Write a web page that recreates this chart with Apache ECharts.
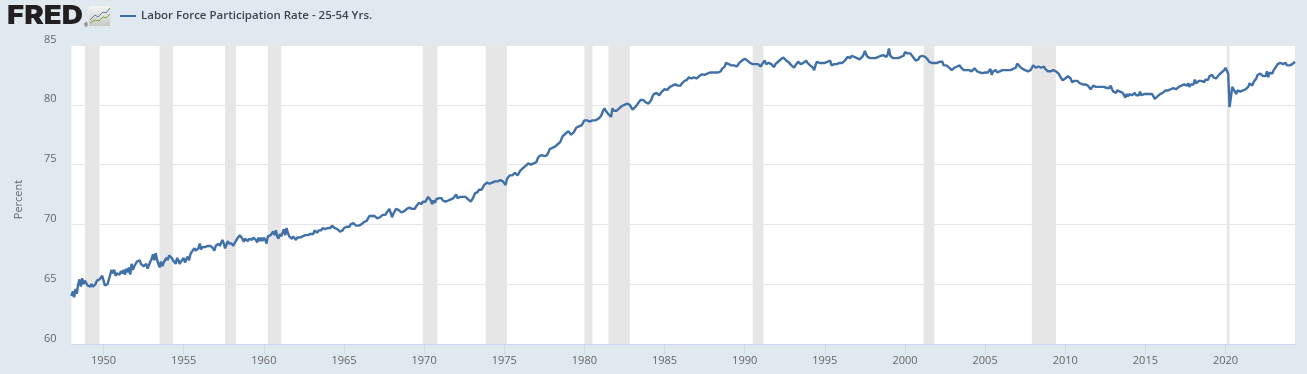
<!DOCTYPE html>
<html>
<head>
<meta charset="utf-8">
<title>Labor Force Participation Rate - 25-54 Yrs.</title>
<script src="https://cdn.jsdelivr.net/npm/echarts@6/dist/echarts.min.js"></script>
<style>
  html, body { margin: 0; padding: 0; background: #e1e9f0; }
  #chart { width: 1307px; height: 374px; }
</style>
</head>
<body>
<div id="chart"></div>
<script>
// monthly values, first value is January of the first year
const rate1948to1959 = [
  64.0,64.4,63.9,64.6,64.2,65.0,65.4,64.8,65.5,65.0,65.3,65.1,
  64.9,65.0,64.8,65.0,64.8,64.9,65.0,65.3,65.3,65.4,65.3,65.7,
  65.3,64.9,64.8,65.0,65.4,65.8,66.2,65.9,66.2,65.7,65.9,66.0,
  65.8,66.1,65.9,66.2,65.8,66.3,66.0,66.4,65.8,66.7,66.2,66.5,
  66.6,66.9,66.8,67.0,66.7,66.6,66.5,66.4,66.7,66.3,66.6,66.9,
  67.1,67.5,67.0,67.6,67.1,66.7,66.4,66.9,66.5,66.8,66.7,67.2,
  67.0,67.4,67.3,67.2,67.0,66.9,66.7,67.2,67.0,66.7,66.9,66.8,
  67.2,66.8,67.1,67.3,67.0,67.5,67.7,67.6,68.0,67.8,67.9,68.0,
  68.4,67.9,68.1,68.2,68.1,68.2,68.2,68.3,68.2,68.1,68.0,67.8,
  68.2,68.3,68.4,68.2,68.3,68.7,68.4,68.0,68.3,68.6,68.4,68.5,
  68.4,68.2,68.4,68.6,68.8,68.9,69.1,69.0,68.8,68.55,68.8,68.7,
  68.6,68.8,68.8,68.7,68.9,68.8,68.7,68.5,68.9,68.6,68.9,68.6
];
const rate1960to1969 = [
  68.9,68.7,68.4,69.0,68.9,69.1,69.2,69.4,69.1,69.5,69.0,68.8,
  69.2,69.0,69.3,69.6,69.1,69.7,69.3,69.0,68.9,68.8,69.0,69.1,
  68.7,68.9,69.0,68.9,68.8,69.0,69.0,69.1,69.0,69.1,69.0,69.2,
  69.1,69.2,69.5,69.4,69.3,69.5,69.6,69.5,69.7,69.8,69.6,69.7,
  69.7,69.8,69.7,69.9,69.8,69.7,69.8,69.6,69.5,69.4,69.4,69.5,
  69.7,69.6,69.8,69.9,69.8,70.0,70.1,70.1,70.0,69.9,69.9,69.9,
  70.0,70.0,70.1,70.2,70.1,70.3,70.5,70.7,70.8,70.7,70.6,70.7,
  70.6,70.5,70.6,70.6,70.7,70.8,70.9,70.8,71.0,71.1,71.3,71.2,
  70.6,70.9,71.1,71.3,71.3,71.2,71.1,71.0,71.0,71.1,71.2,71.3,
  71.4,71.4,71.3,71.3,71.4,71.3,71.5,71.6,71.8,71.8,71.7,71.9
];
const rate1970to1979 = [
  72.0,71.9,72.1,72.3,72.2,72.0,71.7,72.0,71.8,72.1,72.2,72.2,
  72.1,72.2,72.0,71.9,71.9,71.8,72.0,72.0,72.1,72.1,72.2,72.2,
  72.5,72.2,72.2,72.3,72.3,72.3,72.4,72.3,72.2,72.1,72.0,71.9,
  72.1,72.3,72.6,72.6,72.7,72.9,73.0,72.9,73.1,73.3,73.4,73.5,
  73.6,73.4,73.5,73.5,73.4,73.6,73.7,73.6,73.7,73.7,73.8,73.6,
  73.7,73.3,73.8,73.9,74.1,74.0,74.1,74.2,74.3,74.4,74.1,74.3,
  74.5,74.6,74.7,74.8,74.9,75.0,75.1,75.0,75.0,75.1,75.1,75.1,
  75.2,75.5,75.7,75.7,75.8,75.7,75.7,75.8,75.8,76.0,76.3,76.4,
  76.4,76.5,76.5,76.6,76.7,76.8,76.9,77.2,77.4,77.5,77.6,77.7,
  77.8,77.7,77.5,77.4,77.7,77.9,78.1,78.2,78.2,78.2,78.3,78.5
];
const rate1980to1989 = [
  78.7,78.8,78.7,78.7,78.6,78.6,78.7,78.7,78.7,78.8,78.8,78.8,
  79.0,79.2,79.5,79.7,79.5,79.4,79.2,79.2,79.0,79.7,79.5,79.4,
  79.5,79.6,79.7,79.8,79.9,80.0,80.0,80.0,80.1,80.0,80.0,79.9,
  79.6,79.7,79.8,79.9,80.1,80.2,80.4,80.5,80.4,80.3,80.2,80.2,
  80.1,80.2,80.4,80.7,80.9,81.05,81.0,80.9,80.8,80.9,81.1,81.2,
  81.3,81.4,81.25,81.3,81.5,81.5,81.6,81.7,81.7,81.7,81.6,81.7,
  81.6,81.8,81.9,82.0,82.1,82.1,82.3,82.3,82.2,82.3,82.3,82.2,
  82.2,82.3,82.4,82.5,82.55,82.5,82.5,82.6,82.6,82.6,82.7,82.6,
  82.7,82.6,82.7,82.7,82.7,82.6,82.8,83.0,83.05,83.2,83.5,83.5,
  83.4,83.3,83.3,83.2,83.3,83.2,83.2,83.3,83.5,83.6,83.7,83.8
];
const rate1990to1999 = [
  83.85,83.9,83.7,83.6,83.5,83.4,83.4,83.4,83.4,83.4,83.4,83.3,
  83.2,83.4,83.5,83.7,83.4,83.4,83.5,83.4,83.4,83.3,83.15,83.4,
  83.5,83.6,83.7,83.8,83.9,83.95,83.8,83.7,83.6,83.55,83.4,83.3,
  83.2,83.1,83.3,83.4,83.6,83.5,83.4,83.3,83.5,83.6,83.7,83.5,
  83.4,83.3,83.2,83.1,82.9,83.3,83.6,83.5,83.5,83.5,83.5,83.6,
  83.5,83.6,83.6,83.7,83.7,83.3,83.4,83.4,83.4,83.4,83.4,83.5,
  83.45,83.5,83.6,83.7,83.7,84.0,83.9,83.9,84.1,84.1,84.0,83.9,
  83.9,83.9,83.8,83.8,84.0,84.2,84.5,84.2,84.0,84.0,83.9,83.9,
  83.9,83.9,83.9,83.9,84.0,84.0,84.1,84.1,84.15,84.1,84.0,84.2,
  84.7,84.1,84.0,83.9,84.0,83.9,83.9,83.9,83.9,84.0,84.0,84.1
];
const rate2000to2009 = [
  84.4,84.4,84.3,84.4,84.3,84.2,84.0,83.9,83.7,83.6,83.8,84.0,
  84.15,84.1,84.1,84.0,83.9,83.8,83.6,83.6,83.5,83.6,83.5,83.5,
  83.5,83.5,83.6,83.5,83.6,83.3,83.2,83.3,83.2,83.1,83.0,82.9,
  83.0,83.1,83.1,83.2,83.3,83.3,83.1,83.0,82.9,83.0,82.9,82.9,
  82.9,82.8,82.8,82.8,83.05,83.0,82.8,82.8,82.7,82.7,82.65,82.6,
  82.7,82.8,82.7,82.6,83.0,82.5,82.8,82.8,82.9,82.7,82.8,82.8,
  82.8,82.9,83.0,82.9,82.9,82.9,83.0,82.9,83.0,83.0,83.0,83.1,
  83.45,83.3,83.2,83.1,83.0,83.0,82.9,82.9,82.8,82.75,82.9,83.1,
  83.3,83.2,83.1,83.1,83.2,83.2,83.1,83.2,83.2,83.0,82.9,82.8,
  82.7,82.8,82.9,82.9,82.9,82.8,82.7,82.6,82.4,82.3,82.05,82.2
];
const rate2010to2019 = [
  82.2,82.3,82.4,82.55,82.2,81.9,82.0,82.0,81.9,82.0,81.9,81.8,
  81.7,81.7,81.7,81.7,81.7,81.6,81.5,81.3,81.4,81.6,81.5,81.5,
  81.5,81.5,81.4,81.5,81.5,81.5,81.4,81.4,81.4,81.4,81.6,81.3,
  81.1,81.0,81.0,81.2,81.1,81.1,81.0,81.0,80.9,80.6,80.9,80.7,
  80.9,81.0,80.8,80.7,81.0,80.8,80.7,80.8,81.1,80.8,80.9,80.9,
  80.9,80.9,80.9,80.9,81.0,80.9,80.7,80.5,80.6,80.7,80.8,80.9,
  81.0,81.0,81.1,81.2,81.1,81.2,81.2,81.3,81.4,81.4,81.4,81.3,
  81.4,81.5,81.5,81.6,81.6,81.7,81.6,81.6,81.8,81.5,81.7,81.7,
  81.7,82.1,81.8,81.7,82.0,81.9,82.0,82.1,81.9,82.1,82.1,82.1,
  82.4,82.5,82.5,82.3,82.3,82.2,82.1,82.5,82.6,82.7,82.8,82.9
];
const rate2020to2024 = [
  83.1,83.0,82.6,79.8,80.6,81.5,81.3,81.1,80.9,81.2,81.1,81.1,
  81.2,81.2,81.3,81.3,81.4,81.5,81.8,81.7,81.6,81.9,81.9,82.2,
  82.5,82.4,82.6,82.5,82.4,82.3,82.4,82.8,82.3,82.7,82.6,82.6,
  82.9,83.0,83.2,83.4,83.4,83.5,83.4,83.4,83.5,83.5,83.3,83.4,
  83.3,83.2,83.4,83.4,83.6
];
const recessions = [
  ['1948-11','1949-10'],['1953-07','1954-05'],['1957-08','1958-04'],['1960-04','1961-02'],
  ['1969-12','1970-11'],['1973-11','1975-03'],['1980-01','1980-07'],['1981-07','1982-11'],
  ['1990-07','1991-03'],['2001-03','2001-11'],['2007-12','2009-06'],['2020-02','2020-04']
];
const yTicks = [60, 65, 70, 75, 80, 85];
const seriesName = 'Labor Force Participation Rate - 25-54 Yrs.';

const rate = [].concat(rate1948to1959, rate1960to1969, rate1970to1979, rate1980to1989,
  rate1990to1999, rate2000to2009, rate2010to2019, rate2020to2024);
let months = [];
for (let i = 0; i < rate.length; i++) {
  const y = 1948 + Math.floor(i / 12);
  const m = i % 12 + 1;
  months.push(y + '-' + (m < 10 ? '0' + m : m));
}
// a label and a tick every five years, on January
const isFifthYear = (index) => index % 60 === 24;

const myChart = echarts.init(document.getElementById('chart'), null, { renderer: 'canvas' });
const font = '"Open Sans", sans-serif';
const option = {
  animation: false,
  backgroundColor: '#e1e9f0',
  grid: {
    show: true, left: 71.5, right: 12, top: 45, bottom: 30,
    backgroundColor: '#ffffff', borderWidth: 0
  },
  legend: {
    left: 120, top: 10, padding: 0,
    itemWidth: 16, itemHeight: 2, itemGap: 0,
    icon: 'rect',
    textStyle: { fontFamily: font, fontSize: 11.5, fontWeight: 600, color: '#3d4450' },
    data: [seriesName]
  },
  xAxis: {
    type: 'category',
    data: months,
    boundaryGap: false,
    axisLine: { lineStyle: { color: '#ccd6eb', width: 1 } },
    axisTick: { interval: isFifthYear, length: 10, lineStyle: { color: '#ccd6eb' } },
    axisLabel: {
      interval: isFifthYear,
      margin: 11,
      fontFamily: font, fontSize: 11, color: '#666666',
      formatter: (v) => v.slice(0, 4)
    },
    splitLine: { show: false }
  },
  yAxis: {
    type: 'value',
    min: yTicks[0], max: yTicks[yTicks.length - 1], interval: 5,
    name: 'Percent',
    nameLocation: 'middle',
    nameGap: 47,
    nameRotate: 90,
    nameTextStyle: { fontFamily: font, fontSize: 11, color: '#666666', padding: [0, 10, 0, 0] },
    axisLine: { show: false },
    axisTick: { show: false },
    axisLabel: {
      margin: 15, fontFamily: font, fontSize: 11, color: '#666666',
      verticalAlign: 'bottom', lineHeight: 11
    },
    splitLine: { lineStyle: { color: '#e6e6e6', width: 1 } }
  },
  series: [{
    name: seriesName,
    type: 'line',
    data: rate,
    showSymbol: false,
    smooth: false,
    itemStyle: { color: '#4070a8' },
    lineStyle: { color: '#4070a8', width: 2.4 },
    markArea: {
      silent: true,
      itemStyle: { color: '#e6e6e6' },
      data: recessions.map((r) => [{ xAxis: r[0] }, { xAxis: r[1] }])
    }
  }],
  graphic: [
    { type: 'text', x: 7, y: 3, scaleX: 1.13, style: { text: 'FRED', fontFamily: 'Inter, sans-serif', fontWeight: 900, fontSize: 26, fill: '#231f20' } },
    { type: 'text', x: 84, y: 23, style: { text: '®', fontFamily: font, fontSize: 5, fill: '#231f20' } },
    { type: 'rect', shape: { x: 89, y: 6, width: 21, height: 20 }, style: { fill: new echarts.graphic.LinearGradient(0, 0, 0, 1, [{ offset: 0, color: '#f4f5f3' }, { offset: 1, color: '#c8cac6' }]) } },
    { type: 'polyline', shape: { points: [[90, 20], [95, 15], [98, 17], [103, 12], [106, 13], [110, 8]] }, style: { fill: null, stroke: '#5f7f9f', lineWidth: 1 } },
    { type: 'polyline', shape: { points: [[90, 23], [95, 20], [99, 21], [103, 17], [106, 18], [110, 14]] }, style: { fill: null, stroke: '#7da23f', lineWidth: 1 } }
  ]
};
myChart.setOption(option);
</script>
</body>
</html>
